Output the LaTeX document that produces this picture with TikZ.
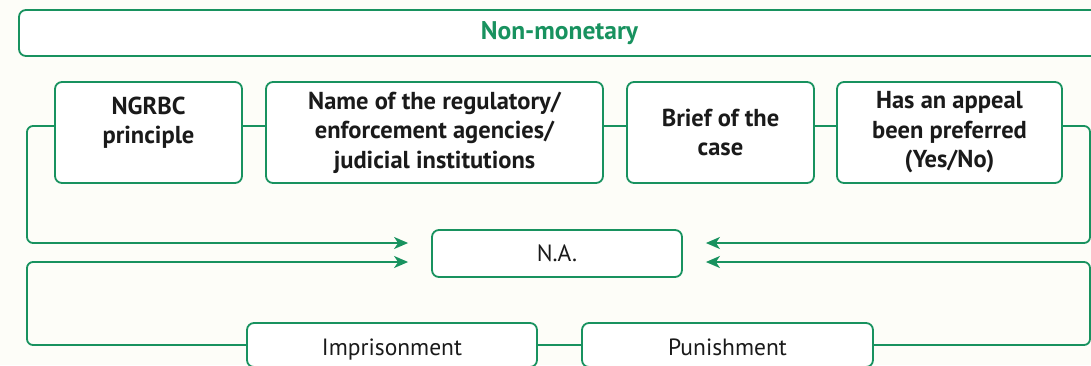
\documentclass[tikz,border=0pt]{standalone}
\usepackage{fontspec}
\setmainfont{PT Sans}
\usetikzlibrary{arrows.meta}
\definecolor{grn}{HTML}{18925F}
\definecolor{bgc}{HTML}{FDFDF8}
\definecolor{txt}{HTML}{1A1A1A}
\tikzset{
  box/.style={draw=grn, line width=1.8pt, rounded corners=7pt, fill=white,
    align=center, text=txt, inner sep=0pt},
  headbox/.style={box, font=\fontsize{24.5}{29.5}\selectfont\bfseries},
  plainbox/.style={box, font=\fontsize{23.5}{29}\selectfont},
  lowbox/.style={plainbox, text height=22pt, text depth=2pt},
  link/.style={draw=grn, line width=1.8pt, rounded corners=6pt},
  arr/.style={link, -{Stealth[length=14pt,width=12pt,inset=4pt]}}
}
\begin{document}
\begin{tikzpicture}[x=1pt,y=-1pt]
\useasboundingbox (0,0) rectangle (1091,365);
\fill[bgc] (0,0) rectangle (1091,365);
\clip (0,0) rectangle (1091,365);
% top banner
\node[box, minimum width=1081pt, minimum height=46pt, text=grn,
  font=\fontsize{25.5}{29}\selectfont\bfseries] (top) at (559.5,33) {Non-monetary};
% top row
\node[headbox, minimum width=187pt, minimum height=101pt] (ngrbc) at (148.5,132.5)
  {\raisebox{9.5pt}[\height][\depth]{\begin{tabular}{@{}c@{}}NGRBC\\principle\end{tabular}}};
\node[headbox, minimum width=337pt, minimum height=101pt] (name) at (434.5,132.5)
  {Name of the regulatory/\\enforcement agencies/\\judicial institutions};
\node[headbox, minimum width=187pt, minimum height=101pt] (brief) at (720.5,132.5)
  {Brief of the\\case};
\node[headbox, minimum width=225pt, minimum height=101pt] (appeal) at (949.5,132.5)
  {Has an appeal\\been preferred\\(Yes/No)};
% middle
\node[plainbox, minimum width=250pt, minimum height=47pt] (na) at (557,253.5) {N.A.};
% bottom
\node[lowbox, minimum width=290pt, minimum height=44pt] (imp) at (392,345) {Imprisonment};
\node[lowbox, minimum width=291pt, minimum height=44pt] (pun) at (727.5,345) {Punishment};
% connectors
\draw[link] ([yshift=6.5pt]ngrbc.east) -- ([yshift=6.5pt]name.west);
\draw[link] ([yshift=6.5pt]name.east) -- ([yshift=6.5pt]brief.west);
\draw[link] ([yshift=6.5pt]brief.east) -- ([yshift=6.5pt]appeal.west);
\draw[link] (imp.east) -- (pun.west);
\draw[arr] ([yshift=6.5pt]ngrbc.west) -| (27,243) -- ([xshift=-23pt,yshift=10.5pt]na.west);
\draw[arr] (imp.west) -| (27,262) -- ([xshift=-23pt,yshift=-8.5pt]na.west);
\draw[arr] ([yshift=6.5pt]appeal.east) -| (1090,243) -- ([xshift=23pt,yshift=10.5pt]na.east);
\draw[arr] (pun.east) -| (1090,262) -- ([xshift=23pt,yshift=-8.5pt]na.east);
\end{tikzpicture}
\end{document}
